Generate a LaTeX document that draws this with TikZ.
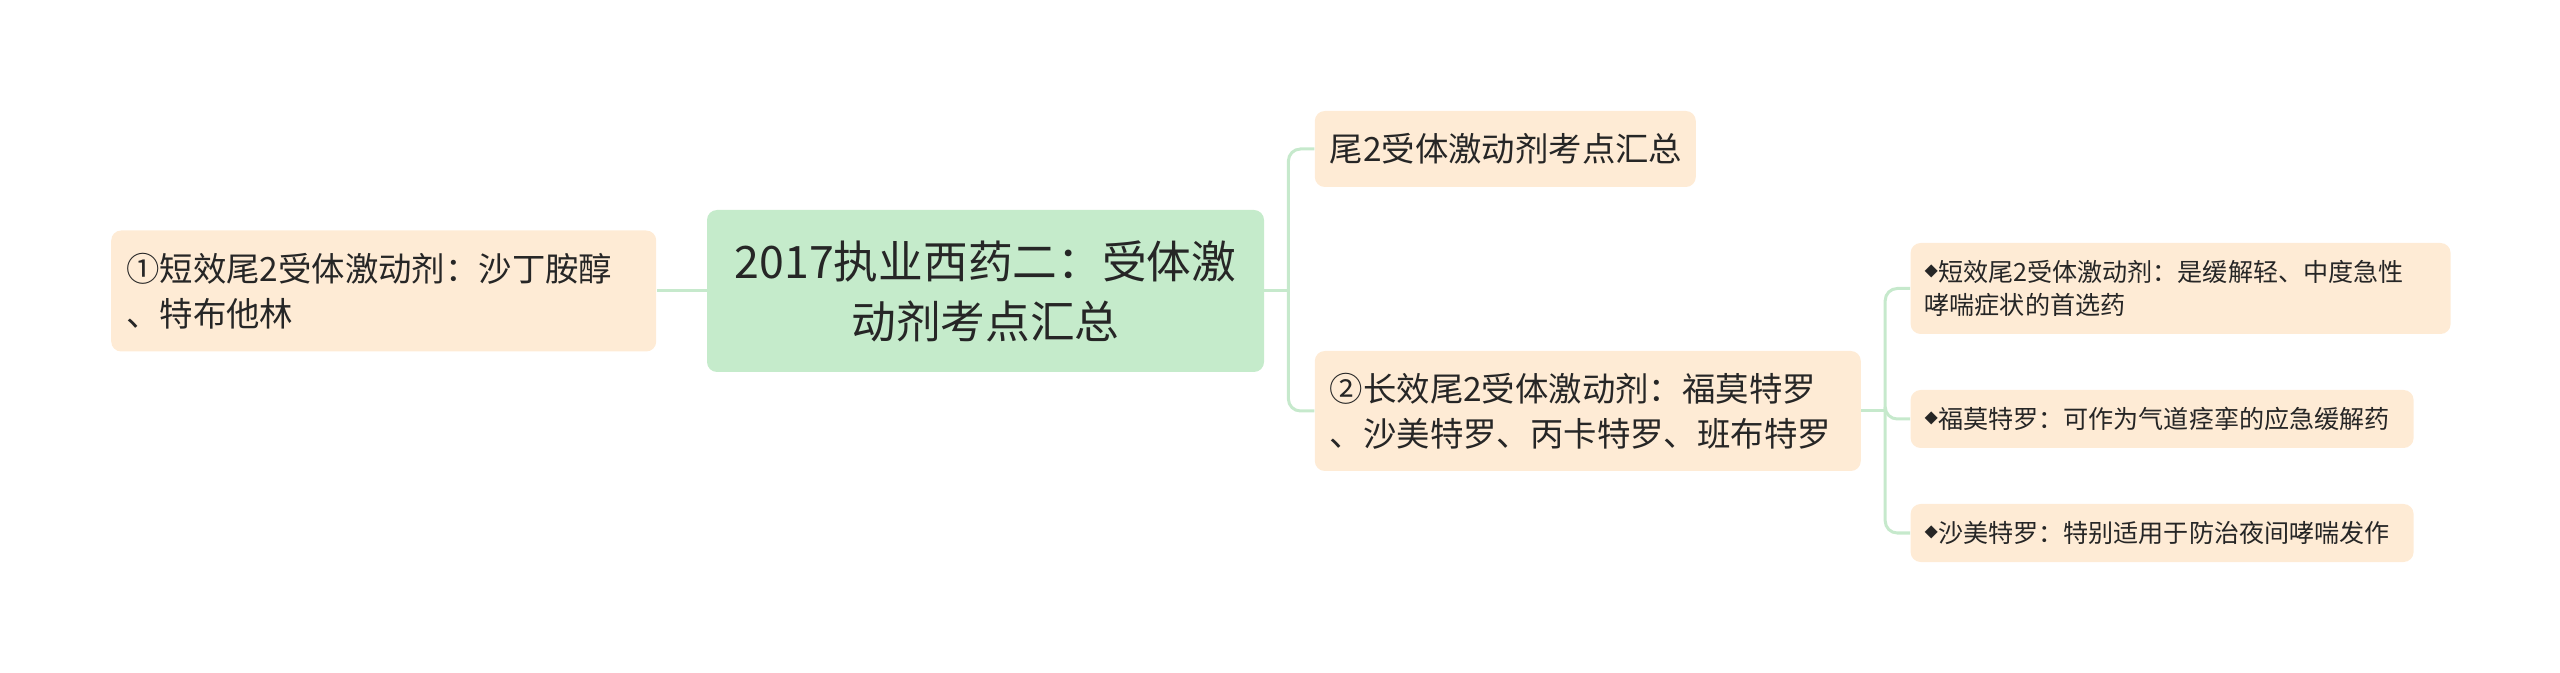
\documentclass[tikz,border=0pt]{standalone}
\usepackage{fontspec}
\setmainfont{Noto Sans CJK SC}
\usetikzlibrary{positioning}
\definecolor{rootgreen}{HTML}{C5EBCB}
\definecolor{boxpeach}{HTML}{FEEBD5}
\definecolor{linegreen}{HTML}{C6E9CC}
\definecolor{inkgray}{HTML}{262626}
\newcommand{\leafmark}{\raisebox{2.3pt}{\fontsize{6.7pt}{6.7pt}\selectfont ◆}}
\begin{document}
\begin{tikzpicture}[
    rootbox/.style={fill=rootgreen, rounded corners=5pt, text=inkgray, align=center,
      inner xsep=7.5pt, inner ysep=2pt, text width=263.5pt, minimum height=81pt,
      font=\fontsize{22.35pt}{30pt}\selectfont},
    topicbox/.style={fill=boxpeach, rounded corners=5pt, text=inkgray, align=left,
      inner xsep=7.5pt, inner ysep=2pt,
      font=\fontsize{16.7pt}{22.5pt}\selectfont},
    leafbox/.style={fill=boxpeach, rounded corners=5pt, text=inkgray, align=left,
      inner xsep=7pt, inner ysep=2pt,
      font=\fontsize{12.55pt}{16.5pt}\selectfont},
    link/.style={draw=linegreen, line width=1.5pt, rounded corners=6pt}
  ]
    \useasboundingbox (0,0) rectangle (1280pt,-336.5pt);
    \node (main) [rootbox] at (492.75pt,-145.5pt) {2017执业西药二：受体激\\动剂考点汇总};
    \node (short) [topicbox, text width=257.5pt, minimum height=60.5pt, left=25pt of main] {①短效尾2受体激动剂：沙丁胺醇\\、特布他林};
    \node (sum) [topicbox, text width=175.5pt, minimum height=38pt, right=25pt of main.east, yshift=71pt] {尾2受体激动剂考点汇总};
    \node (long) [topicbox, text width=258pt, minimum height=60pt, right=25pt of main.east, yshift=-60pt] {②长效尾2受体激动剂：福莫特罗\\、沙美特罗、丙卡特罗、班布特罗};
    \node (firstaid) [leafbox, text width=256pt, minimum height=45.5pt, right=24.5pt of long.east, yshift=61.25pt] {\leafmark 短效尾2受体激动剂：是缓解轻、中度急性\\哮喘症状的首选药};
    \node (formo) [leafbox, text width=237.5pt, minimum height=29pt, right=24.5pt of long.east, yshift=-4pt] {\leafmark 福莫特罗：可作为气道痉挛的应急缓解药};
    \node (salme) [leafbox, text width=237.5pt, minimum height=29pt, right=24.5pt of long.east, yshift=-61pt] {\leafmark 沙美特罗：特别适用于防治夜间哮喘发作};

    % Lines
    \draw [link] (main.west) -- (short.east);
    \draw [link] (main.east) -- ++(12pt,0) coordinate (mainfork);
    \draw [link] (mainfork) |- (sum.west);
    \draw [link] (mainfork) |- (long.west);
    \draw [link] (long.east) -- ++(12pt,0) coordinate (longfork);
    \draw [link] (longfork) |- (firstaid.west);
    \draw [link] (longfork) |- (formo.west);
    \draw [link] (longfork) |- (salme.west);
\end{tikzpicture}
\end{document}
